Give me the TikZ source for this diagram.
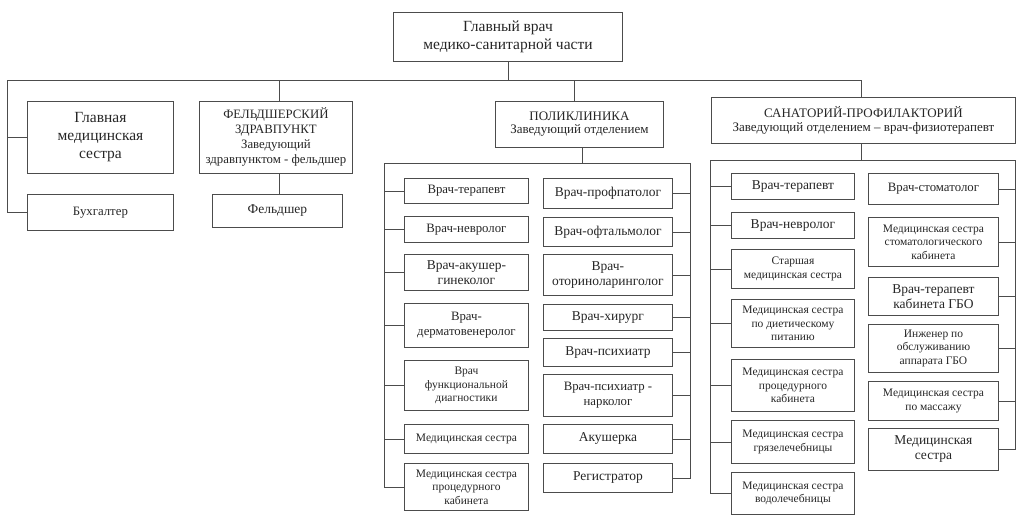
\documentclass[tikz,border=0pt]{standalone}
\usepackage{fontspec}
\setmainfont{Liberation Serif}
\newcommand\fsz[2]{\fontsize{#1}{#2}\selectfont}
\tikzset{
  box/.style={draw=black!70, line width=0.9pt, inner sep=1pt, align=center, anchor=north west, text=black!85},
  link/.style={draw=black!70, line width=0.9pt},
  sm/.style={font=\fsz{11.5}{13.5}},
  md/.style={font=\fsz{12.8}{15}},
  mdp/.style={font=\fsz{13.5}{15}},
  hd/.style={font=\fsz{13}{13}},
  lg/.style={font=\fsz{15.5}{18}}
}
\newcommand\bx[7]{\node[box,#6,minimum width={(#4-#2)*1pt},minimum height={(#5-#3)*1pt}] (#1) at (#2,#3) {#7};}
\begin{document}
\begin{tikzpicture}[x=1pt,y=-1pt]
\useasboundingbox (0,0) rectangle (1024,522);
% top level
\bx{top}{393}{12}{622}{61}{lg}{Главный врач\\медико-санитарной части}
\coordinate (hL) at (7,80);
\coordinate (hR) at (861,80);
\draw[link] (top.south) -- (top.south |- hL);
\draw[link] (hL) -- (hR);
% left branch
\bx{gms}{27}{101}{173}{173}{lg}{Главная\\медицинская\\сестра}
\bx{buh}{27}{194}{173}{230}{md}{Бухгалтер}
\draw[link] (hL) |- (buh.west);
\draw[link] (hL |- gms.west) -- (gms.west);
% feldsher
\bx{fz}{199}{101}{352}{173}{md}{ФЕЛЬДШЕРСКИЙ\\ЗДРАВПУНКТ\\Заведующий\\здравпунктом - фельдшер}
\bx{fel}{212}{194}{342}{227}{mdp}{Фельдшер}
\coordinate (fx) at (279,0);
\draw[link] (fx |- fz.north) -- (fx |- hL);
\draw[link] (fx |- fz.south) -- (fx |- fel.north);
% poliklinika
\bx{pol}{495}{101}{663}{147}{hd}{ПОЛИКЛИНИКА\\Заведующий отделением}
\coordinate (px1) at (574,0);
\coordinate (px2) at (582,0);
\draw[link] (px1 |- pol.north) -- (px1 |- hL);
\coordinate (pL) at (384,163);
\coordinate (pR) at (690,163);
\draw[link] (px2 |- pol.south) -- (px2 |- pL);
\draw[link] (pL) -- (pR);
\bx{pa}{404}{178}{528}{203}{md}{Врач-терапевт}
\bx{pb}{404}{216}{528}{242}{md}{Врач-невролог}
\bx{pc}{404}{254}{528}{290}{mdp}{Врач-акушер-\\гинеколог}
\bx{pd}{404}{303}{528}{347}{md}{Врач-\\дерматовенеролог}
\bx{pe}{404}{360}{528}{410}{sm}{Врач\\функциональной\\диагностики}
\bx{pf}{404}{424}{528}{453}{sm}{Медицинская сестра}
\bx{pg}{404}{463}{528}{510}{sm}{Медицинская сестра\\процедурного\\кабинета}
\foreach \n in {pa,pb,pc,pd,pe,pf} \draw[link] (pL |- \n.west) -- (\n.west);
\draw[link] (pL) |- (pg.west);
\bx{qa}{543}{178}{672}{208}{mdp}{Врач-профпатолог}
\bx{qb}{543}{217}{672}{246}{mdp}{Врач-офтальмолог}
\bx{qc}{543}{254}{672}{295}{mdp}{Врач-\\оториноларинголог}
\bx{qd}{543}{304}{672}{330}{mdp}{Врач-хирург}
\bx{qe}{543}{338}{672}{366}{mdp}{Врач-психиатр}
\bx{qf}{543}{374}{672}{416}{md}{Врач-психиатр -\\нарколог}
\bx{qg}{543}{424}{672}{453}{mdp}{Акушерка}
\bx{qh}{543}{463}{672}{492}{mdp}{Регистратор}
\foreach \n in {qa,qb,qc,qd,qe,qf,qg} \draw[link] (pR |- \n.east) -- (\n.east);
\draw[link] (pR) |- (qh.east);
% sanatorium
\bx{san}{711}{97}{1015}{143}{hd}{САНАТОРИЙ-ПРОФИЛАКТОРИЙ\\[1pt]Заведующий отделением – врач-физиотерапевт}
\draw[link] (hR) -- (san.north -| hR);
\coordinate (sL) at (710,160);
\coordinate (sR) at (1015,160);
\draw[link] (san.south -| hR) -- (sL -| hR);
\draw[link] (sL) -- (sR);
\bx{sa}{731}{173}{854}{199}{mdp}{Врач-терапевт}
\bx{sb}{731}{212}{854}{238}{mdp}{Врач-невролог}
\bx{sc}{731}{249}{854}{288}{sm}{Старшая\\медицинская сестра}
\bx{sd}{731}{299}{854}{347}{sm}{Медицинская сестра\\по диетическому\\питанию}
\bx{se}{731}{359}{854}{411}{sm}{Медицинская сестра\\процедурного\\кабинета}
\bx{sf}{731}{420}{854}{463}{sm}{Медицинская сестра\\грязелечебницы}
\bx{sg}{731}{472}{854}{514}{sm}{Медицинская сестра\\водолечебницы}
\foreach \n in {sa,sb,sc,sd,se,sf} \draw[link] (sL |- \n.west) -- (\n.west);
\draw[link] (sL) |- (sg.west);
\bx{ta}{868}{173}{998}{204}{md}{Врач-стоматолог}
\bx{tb}{868}{217}{998}{266}{sm}{Медицинская сестра\\стоматологического\\кабинета}
\bx{tc}{868}{277}{998}{315}{mdp}{Врач-терапевт\\кабинета ГБО}
\bx{td}{868}{324}{998}{372}{sm}{Инженер по\\обслуживанию\\аппарата ГБО}
\bx{te}{868}{381}{998}{420}{sm}{Медицинская сестра\\по массажу}
\bx{tf}{868}{428}{998}{470}{mdp}{Медицинская\\сестра}
\foreach \n in {ta,tb,tc,td,te} \draw[link] (sR |- \n.east) -- (\n.east);
\draw[link] (sR) |- (tf.east);
\end{tikzpicture}
\end{document}
